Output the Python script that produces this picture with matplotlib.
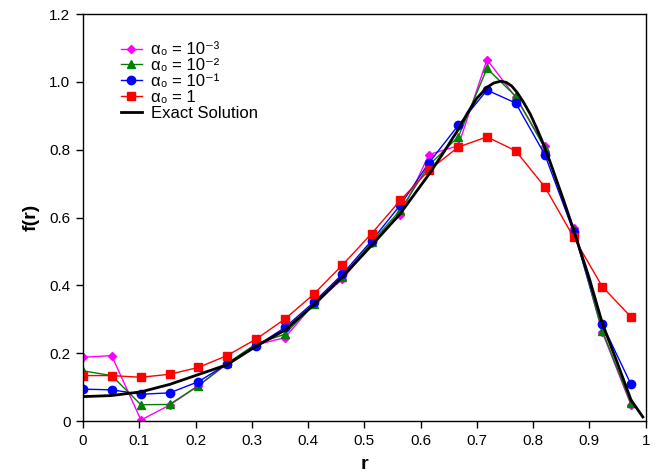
import matplotlib
matplotlib.use("Agg")
import matplotlib.pyplot as plt

plt.rcParams['font.family'] = ['Liberation Sans', 'DejaVu Sans']

r_nodes = [0.0, 0.051, 0.103, 0.154, 0.205, 0.256, 0.308, 0.359, 0.410, 0.461,
           0.513, 0.564, 0.615, 0.667, 0.718, 0.769, 0.821, 0.872, 0.923, 0.974]

f_a1e3 = [0.188, 0.193, 0.003, 0.047, 0.104, 0.168, 0.225, 0.246, 0.345, 0.418,
          0.525, 0.607, 0.786, 0.812, 1.066, 0.955, 0.810, 0.568, 0.262, 0.047]
f_a1e2 = [0.148, 0.134, 0.048, 0.049, 0.104, 0.170, 0.228, 0.256, 0.346, 0.425,
          0.527, 0.622, 0.755, 0.838, 1.040, 0.958, 0.804, 0.565, 0.266, 0.052]
f_a1e1 = [0.094, 0.092, 0.079, 0.083, 0.116, 0.168, 0.221, 0.276, 0.350, 0.433,
          0.532, 0.637, 0.762, 0.872, 0.976, 0.938, 0.785, 0.558, 0.285, 0.108]
f_a1 = [0.134, 0.134, 0.129, 0.138, 0.158, 0.193, 0.242, 0.301, 0.374, 0.460,
        0.553, 0.651, 0.740, 0.808, 0.838, 0.797, 0.690, 0.542, 0.396, 0.307]

r_exact = [0.0, 0.05, 0.103, 0.154, 0.205, 0.256, 0.308, 0.359, 0.410, 0.461,
           0.513, 0.564, 0.615, 0.640, 0.667, 0.684, 0.700, 0.718, 0.730, 0.742,
           0.752, 0.762, 0.772, 0.783, 0.795, 0.806, 0.818, 0.830, 0.854, 0.872,
           0.900, 0.923, 0.950, 0.974, 0.995]
f_exact = [0.072, 0.075, 0.086, 0.108, 0.137, 0.166, 0.221, 0.268, 0.342, 0.425,
           0.518, 0.612, 0.728, 0.790, 0.860, 0.910, 0.952, 0.984, 0.997, 1.002,
           0.999, 0.988, 0.968, 0.940, 0.905, 0.865, 0.818, 0.765, 0.652, 0.563,
           0.420, 0.288, 0.170, 0.062, 0.012]

labels = ['α₀ = 10⁻³', 'α₀ = 10⁻²', 'α₀ = 10⁻¹', 'α₀ = 1', 'Exact Solution']

xticks = [0, 0.1, 0.2, 0.3, 0.4, 0.5, 0.6, 0.7, 0.8, 0.9, 1.0]
xticklabels = ['0', '0.1', '0.2', '0.3', '0.4', '0.5', '0.6', '0.7', '0.8', '0.9', '1']
yticks = [0, 0.2, 0.4, 0.6, 0.8, 1.0, 1.2]
yticklabels = ['0', '0.2', '0.4', '0.6', '0.8', '1.0', '1.2']

fig = plt.figure(figsize=(6.67, 4.72), dpi=100)
ax = fig.add_axes([0.1244, 0.108, 0.8436, 0.862])

ax.plot(r_nodes, f_a1e3, color='#FF00FF', marker='D', markersize=4.5, lw=1, label=labels[0])
ax.plot(r_nodes, f_a1e2, color='#008000', marker='^', markersize=6, lw=1, label=labels[1])
ax.plot(r_nodes, f_a1e1, color='#0000FF', marker='o', markersize=6, lw=1, label=labels[2])
ax.plot(r_nodes, f_a1, color='#FF0000', marker='s', markersize=5.5, lw=1, label=labels[3])
ax.plot(r_exact, f_exact, color='black', lw=2, label=labels[4])

ax.set_xlim(0, 1)
ax.set_ylim(0, 1.2)
ax.set_xticks(xticks)
ax.set_xticklabels(xticklabels)
ax.set_yticks(yticks)
ax.set_yticklabels(yticklabels)
ax.tick_params(direction='out', length=5, width=1, labelsize=11, pad=4)
for s in ax.spines.values():
    s.set_linewidth(1)

ax.set_xlabel('r', fontsize=14, fontweight='bold', labelpad=6)
ax.set_ylabel('f(r)', fontsize=14, fontweight='bold', labelpad=7)

leg = ax.legend(loc='upper left', bbox_to_anchor=(0.055, 0.947), frameon=False,
                fontsize=12, handlelength=1.3, labelspacing=0.05, handletextpad=0.5,
                borderaxespad=0.0)

fig.savefig('out.png', dpi=100)
